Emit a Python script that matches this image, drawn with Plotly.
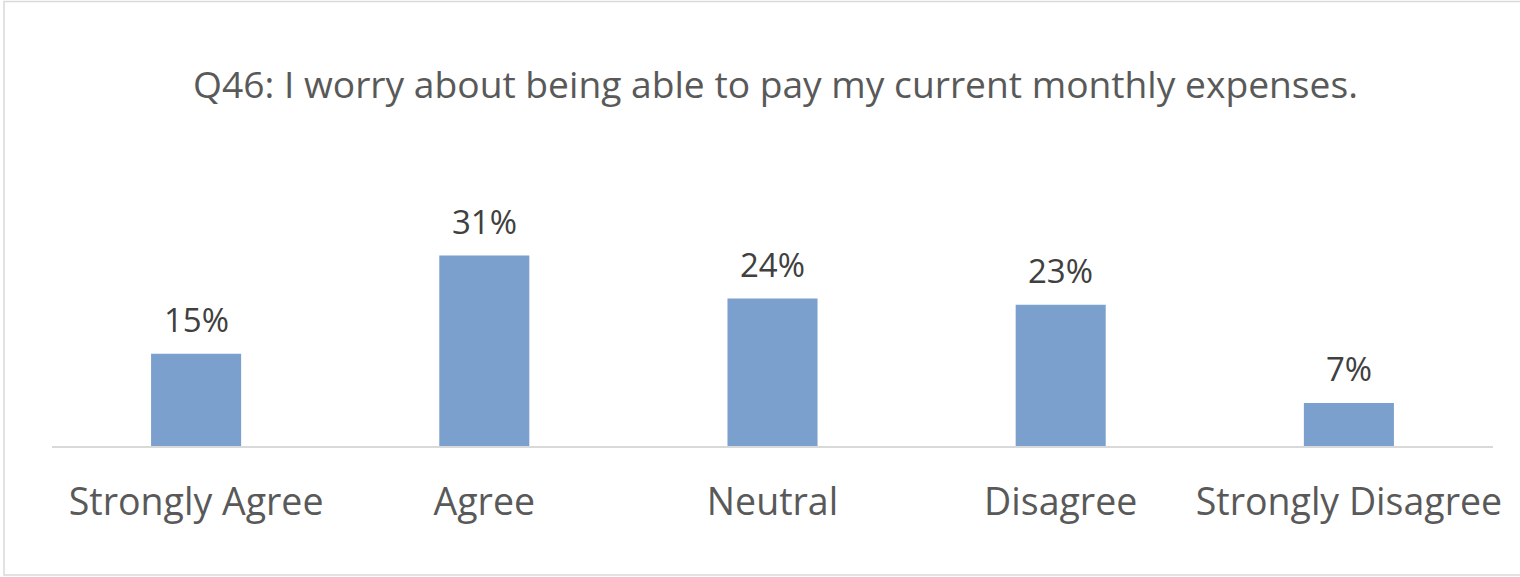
import plotly.graph_objects as go

categories = ["Strongly Agree", "Agree", "Neutral", "Disagree", "Strongly Disagree"]
percentages = [15, 31, 24, 23, 7]
title_text = "Q46: I worry about being able to pay my current monthly expenses."

W, H = 1520, 577
FONT = "'Open Sans', Lato, sans-serif"

fig = go.Figure(
    go.Bar(
        x=categories,
        y=percentages,
        marker=dict(color="#7BA0CD", line=dict(width=0)),
        width=0.3125,
        hoverinfo="x+y",
    )
)

# Value labels sitting above each bar
for cat, v in zip(categories, percentages):
    fig.add_annotation(
        x=cat,
        y=v,
        text=f"{v}%",
        showarrow=False,
        yanchor="bottom",
        yshift=10,
        font=dict(family=FONT, size=33, color="#404040"),
    )

fig.update_layout(
    width=W,
    height=H,
    margin=dict(l=52, r=27, t=231, b=131),
    paper_bgcolor="white",
    plot_bgcolor="white",
    showlegend=False,
    title=dict(
        text=title_text,
        x=775.5 / W,
        xanchor="center",
        y=1 - 85 / H,
        yanchor="middle",
        font=dict(family=FONT, size=37.2, color="#595959"),
    ),
    xaxis=dict(
        showgrid=False,
        showline=True,
        linecolor="#D9D9D9",
        linewidth=2,
        ticks="",
        tickfont=dict(family=FONT, size=37.5, color="#595959"),
        ticklabelstandoff=22,
    ),
    yaxis=dict(
        range=[0, 35],
        visible=False,
        showgrid=False,
        zeroline=False,
    ),
    shapes=[
        # chart-area frame; its right edge runs past the page
        dict(
            type="rect",
            xref="paper",
            yref="paper",
            x0=-48 / (W - 79),
            x1=1 + 60 / (W - 79),
            y0=-129 / (H - 362),
            y1=1 + 229.5 / (H - 362),
            line=dict(color="#D9D9D9", width=1.5),
            fillcolor="rgba(0,0,0,0)",
            layer="below",
        )
    ],
)

fig.write_html("out.html")
